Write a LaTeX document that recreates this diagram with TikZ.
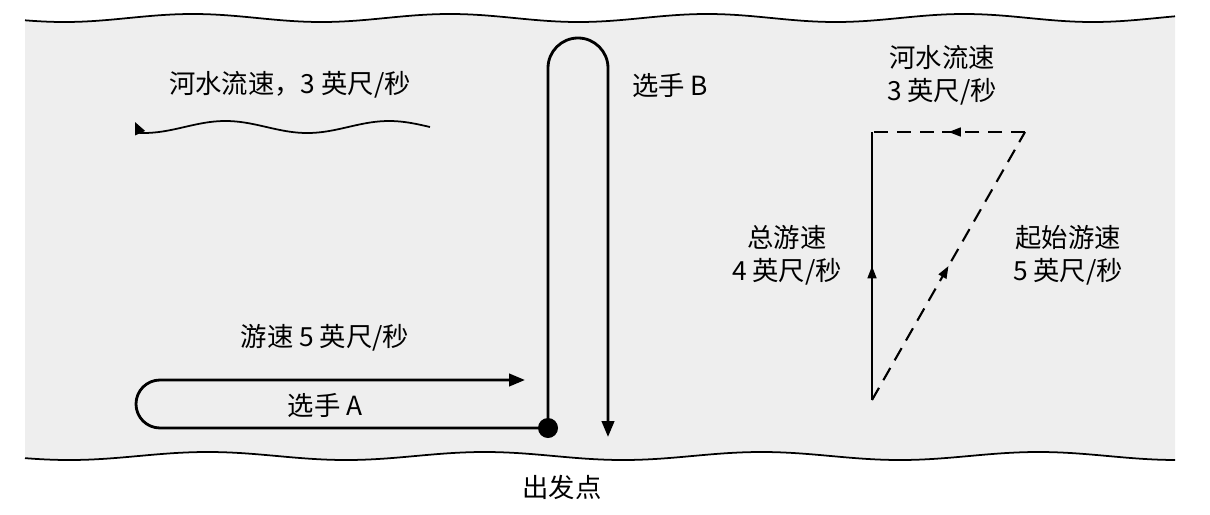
\documentclass[tikz,border=0pt]{standalone}
\usepackage{fontspec}
\setmainfont{Noto Sans CJK SC}
\usetikzlibrary{arrows.meta,decorations.markings,positioning}
\tikzset{
  lbl/.style={font=\fontsize{15}{19}\selectfont, align=center},
  swim/.style={line width=1.6pt, -{Triangle[length=9pt,width=7pt]}},
  midarrow/.style={postaction={decorate}, decoration={markings,
      mark=at position 0.5 with {\arrow{Triangle[length=7pt,width=5pt]}}}},
  vec/.style={line width=1.2pt},
  dvec/.style={line width=1.2pt, dash pattern=on 8pt off 5pt},
}
\begin{document}
\begin{tikzpicture}[x=0.02cm, y=-0.02cm]
\useasboundingbox (0,0) rectangle (1210,514);
% river band
\fill[gray!13] plot[domain=25:1175, samples=200, smooth] (\x, {18+4*sin(\x*1.4)})
  -- plot[domain=1175:25, samples=200, smooth] (\x, {456+4*sin(\x*1.3)}) -- cycle;
\draw[line width=1pt] plot[domain=25:1175, samples=200, smooth] (\x, {18+4*sin(\x*1.4)});
\draw[line width=1pt] plot[domain=25:1175, samples=200, smooth] (\x, {456+4*sin(\x*1.3)});
% river current
\node[lbl] (flow) at (290,85) {河水流速，3 英尺/秒};
\coordinate (wB) at (135,122);
\draw[line width=1pt, -{Triangle[length=7pt,width=6pt]}]
  plot[domain=430:140, samples=80, smooth] (\x, {127+6*sin((\x-430)*2.2)}) -- (wB);
% start
\coordinate (start) at (548,428);
\node[lbl] (startlbl) at (562,487) {出发点};
% swimmer A
\draw[swim] (start) -- (160,428) arc[start angle=90, end angle=270, radius=24] -- (525,380);
\node[lbl] (spdA) at (325,338) {游速 5 英尺/秒};
\node[lbl] (A) at (325,405) {选手 A};
% swimmer B
\draw[swim] (start) -- (548,68) arc[start angle=180, end angle=360, radius=30] -- (608,437);
\node[lbl] (B) at (670,85) {选手 B};
\fill (start) circle (10);
% vector triangle
\coordinate (o) at (872,400);
\coordinate (t) at (872,132);
\coordinate (r) at (1025,132);
\draw[vec, midarrow] (o) -- (t);
\draw[dvec, midarrow] (r) -- (t);
\draw[dvec, midarrow] (o) -- (r);
\node[lbl] (cur) at (942,75) {河水流速\\3 英尺/秒};
\node[lbl] (tot) at (787,255) {总游速\\4 英尺/秒};
\node[lbl] (ini) at (1068,255) {起始游速\\5 英尺/秒};
\end{tikzpicture}
\end{document}
